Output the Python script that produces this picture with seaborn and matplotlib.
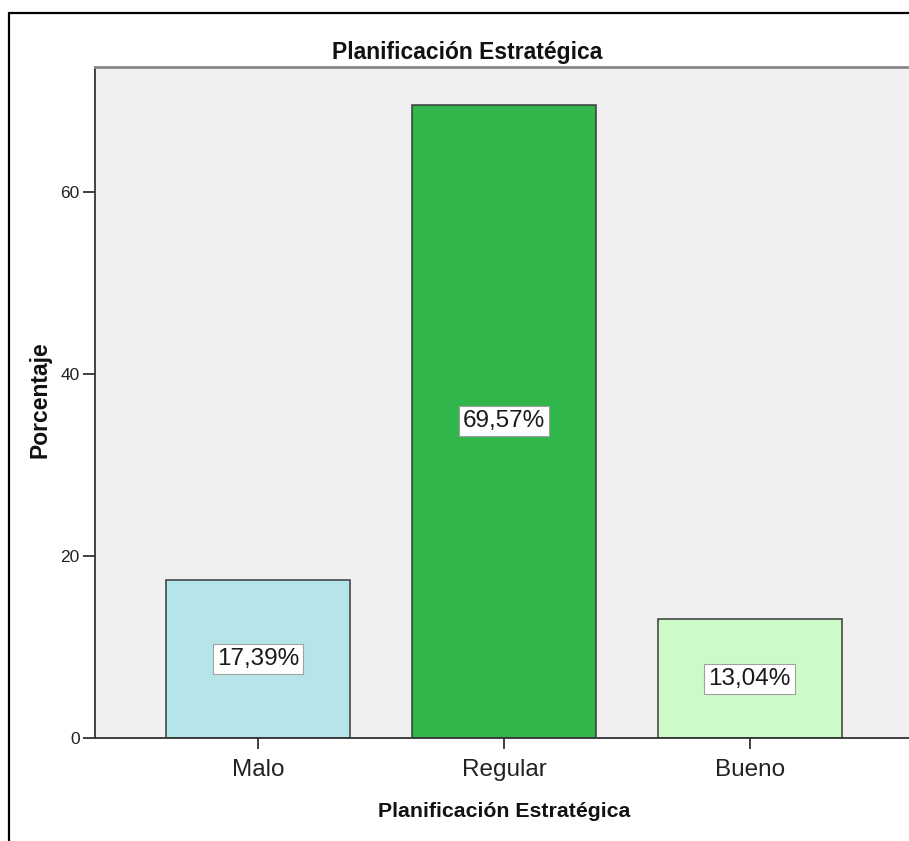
import matplotlib
matplotlib.use("Agg")
import matplotlib.pyplot as plt
from matplotlib import font_manager
from matplotlib.lines import Line2D
import seaborn as sns
import pandas as pd

# Data
categories = ["Malo", "Regular", "Bueno"]
percentages = [17.39, 69.57, 13.04]
bar_colors = ["#B5E5E8", "#31B64B", "#CCFBC8"]
y_ticks = [0, 20, 40, 60]
title_text = "Planificación Estratégica"
x_label = "Planificación Estratégica"
y_label = "Porcentaje"

sns.set_theme(style="white")

installed = {f.name for f in font_manager.fontManager.ttflist}
narrow = "Liberation Sans Narrow" if "Liberation Sans Narrow" in installed else "Liberation Sans"
plt.rcParams["font.family"] = ["Liberation Sans", "DejaVu Sans"]

fig = plt.figure(figsize=(9.09, 8.41), dpi=100)
ax = fig.add_axes([95 / 909, 103 / 841, 818 / 909, 671 / 841])
ax.set_facecolor("#F0F0F0")

df = pd.DataFrame({"cat": categories, "pct": percentages})
sns.barplot(data=df, x="cat", y="pct", hue="cat", palette=bar_colors,
            order=categories, hue_order=categories, legend=False,
            width=0.75, edgecolor="#3A3A3A", linewidth=1.1, saturation=1, ax=ax)

# Percentage labels centred in each bar
for cont in ax.containers:
    vals = [b.get_height() for b in cont]
    labels = [f"{v:.2f}%".replace(".", ",") for v in vals]
    ax.bar_label(cont, labels=labels, label_type="center", fontsize=17.5,
                 family=[narrow, "DejaVu Sans"], color="#1A1A1A",
                 bbox=dict(boxstyle="square,pad=0.17", facecolor="white",
                           edgecolor="#A0A0A0", linewidth=0.8))

ax.set_xlim(-0.664, 2.664)
ax.set_ylim(0, 73.7)
ax.set_yticks(y_ticks)
ax.set_xlabel("")
ax.set_ylabel("")

for s in ["left", "bottom"]:
    ax.spines[s].set_color("#333333")
    ax.spines[s].set_linewidth(1.3)
ax.spines["top"].set_color("#8A8A8A")
ax.spines["top"].set_linewidth(2.0)
ax.spines["right"].set_visible(False)

ax.tick_params(axis="x", length=8, width=1.3, color="#333333", pad=7,
               labelsize=17.5, labelcolor="#222222", bottom=True)
ax.tick_params(axis="y", length=9, width=1.3, color="#333333", pad=2,
               labelsize=12.5, labelcolor="#222222", left=True)
for lab in ax.get_xticklabels() + ax.get_yticklabels():
    lab.set_family([narrow, "DejaVu Sans"])

fig.text(467 / 909, 1 - 59 / 841, title_text, ha="center", va="baseline",
         fontsize=16.5, fontweight="bold", color="#111111")
fig.text(504 / 909, 1 - 817 / 841, x_label, ha="center", va="baseline",
         fontsize=15.3, fontweight="bold", color="#111111")
fig.text(40 / 909, 1 - 400 / 841, y_label, ha="center", va="center",
         rotation=90, fontsize=16.5, fontweight="bold", color="#111111")

# Outer frame lines (top and left)
fig.add_artist(Line2D([9 / 909, 1.0], [1 - 13 / 841, 1 - 13 / 841],
                      transform=fig.transFigure, color="black", linewidth=1.6))
fig.add_artist(Line2D([9 / 909, 9 / 909], [0, 1 - 13 / 841],
                      transform=fig.transFigure, color="black", linewidth=1.6))

fig.savefig("out.png", dpi=100)
